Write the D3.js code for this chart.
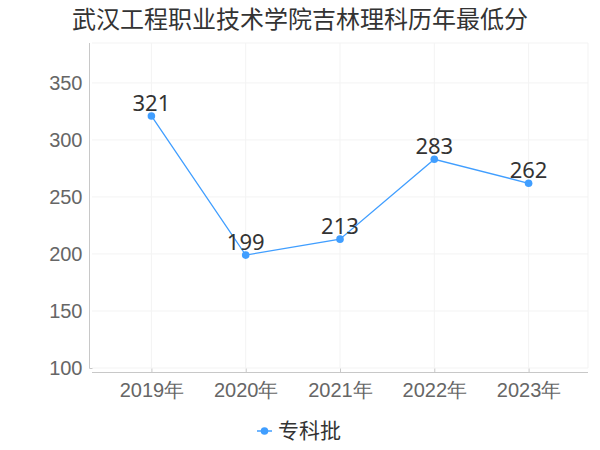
<!DOCTYPE html>
<html><head><meta charset="utf-8">
<script src="https://cdn.jsdelivr.net/npm/d3@7"></script>
<style>body{margin:0;background:#fff}svg{display:block;font-family:"Noto Sans","Noto Sans CJK SC",sans-serif}</style>
</head><body><svg id="c" width="600" height="450"></svg>
<script>
const title = "武汉工程职业技术学院吉林理科历年最低分";
const categories = ["2019年","2020年","2021年","2022年","2023年"];
const seriesName = "专科批";
const values = [321,199,213,283,262];
const yTicks = [100,150,200,250,300,350];

const svg = d3.select("#c");
const color = "#409eff";
const x = d3.scalePoint().domain(categories).range([92,588]).padding(0.63);
const y = d3.scaleLinear().domain([100,385]).range([368,43]);

// grid
const g = svg.append("g");
g.selectAll(".hg").data(yTicks.concat([385])).enter().append("line")
  .attr("x1",92).attr("x2",588).attr("y1",d=>y(d)).attr("y2",d=>y(d))
  .attr("stroke","#f3f3f3").attr("stroke-width",1);
g.selectAll(".vg").data(categories).enter().append("line")
  .attr("x1",d=>x(d)).attr("x2",d=>x(d)).attr("y1",43).attr("y2",368)
  .attr("stroke","#f3f3f3").attr("stroke-width",1);
g.append("line").attr("x1",588).attr("x2",588).attr("y1",43).attr("y2",368)
  .attr("stroke","#f3f3f3");

// y axis
const ya = svg.append("g").attr("transform","translate(89.5,0)")
  .call(d3.axisLeft(y).tickValues(yTicks).tickSize(0).tickPadding(7));
ya.select(".domain").attr("stroke","#c8c8c8").attr("d","M0,43V368.5H3");
ya.selectAll("text").attr("fill","#666").attr("font-size","20px");

// x axis
const xa = svg.append("g").attr("transform","translate(0,372.5)")
  .call(d3.axisBottom(x).tickSize(4).tickPadding(6));
xa.select(".domain").attr("stroke","#c8c8c8").attr("d","M92,0H588");
xa.selectAll(".tick line").attr("stroke","#c8c8c8").attr("y1",-4).attr("y2",0);
xa.selectAll("text").attr("fill","#666").attr("font-size","20px");

// line
const data = categories.map((c,i)=>({c,v:values[i]}));
svg.append("path").datum(data)
  .attr("d",d3.line().x(d=>x(d.c)).y(d=>y(d.v)))
  .attr("fill","none").attr("stroke",color).attr("stroke-width",1.3);
svg.selectAll(".pt").data(data).enter().append("circle")
  .attr("cx",d=>x(d.c)).attr("cy",d=>y(d.v)).attr("r",3.8).attr("fill",color);
svg.selectAll(".lb").data(data).enter().append("text")
  .attr("x",d=>x(d.c)).attr("y",d=>y(d.v)-5).attr("text-anchor","middle")
  .attr("fill","#333").attr("font-size","22px").text(d=>d.v);

// title
svg.append("text").attr("x",300).attr("y",28).attr("text-anchor","middle")
  .attr("fill","#333").attr("font-size","24px").text(title);

// legend
const lg = svg.append("g");
lg.append("line").attr("x1",257).attr("x2",272).attr("y1",431).attr("y2",431)
  .attr("stroke",color).attr("stroke-width",1.5);
lg.append("circle").attr("cx",264.5).attr("cy",431).attr("r",3.8).attr("fill",color);
lg.append("text").attr("x",278).attr("y",438).attr("fill","#333")
  .attr("font-size","21px").text(seriesName);
</script></body></html>
